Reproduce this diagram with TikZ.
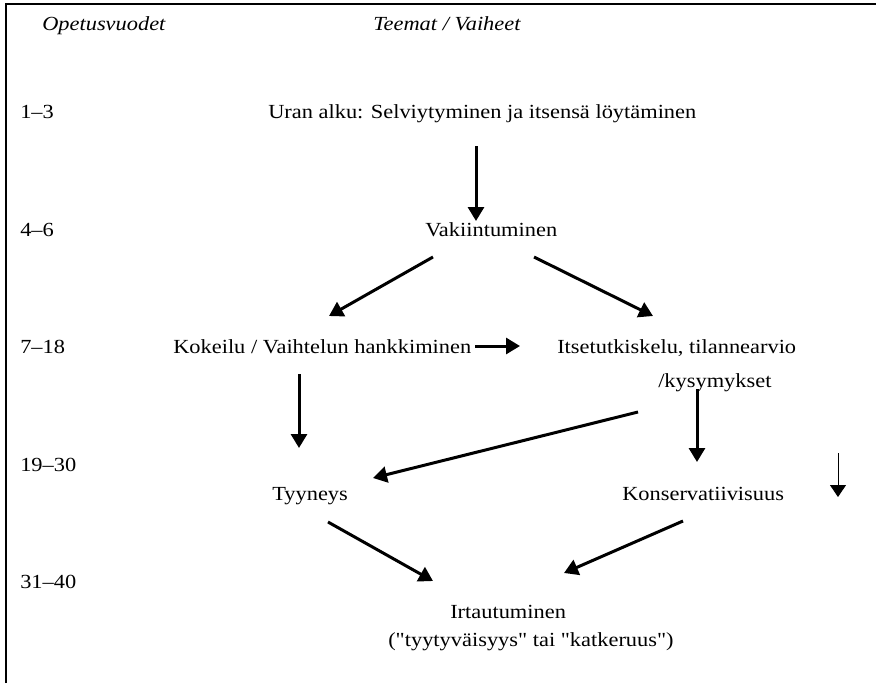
\documentclass[tikz,border=0pt]{standalone}
\usepackage{fontspec}
\setmainfont{Liberation Serif}[FakeStretch=1.12, Ligatures=TeXOff]
\usetikzlibrary{arrows.meta}
\tikzset{
  txt/.style={font=\fontsize{15}{20}\selectfont, inner sep=0pt, anchor=base west},
  hdr/.style={txt, font=\fontsize{15}{20}\selectfont\itshape},
  arr/.style={line width=2.25pt, -{Triangle[length=10.5pt,width=12pt]}},
  thinarr/.style={line width=0.75pt, -{Triangle[length=9pt,width=12pt]}},
  frame/.style={line width=1.8pt}
}
\begin{document}
\begin{tikzpicture}[x=0.75pt,y=-0.75pt]
\useasboundingbox (0,0) rectangle (876,683);
% frame (top and left)
\coordinate (fl) at (6,683);
\coordinate (fc) at (6,4);
\coordinate (fr) at (876,4);
\draw[frame] (fl) -- (fc) -- (fr);
% headers
\node[hdr] (h1) at (42,30) {Opetusvuodet};
\node[hdr] (h2) at (373,30) {Teemat / Vaiheet};
% years
\node[txt] (y1) at (20,118) {1–3};
\node[txt] (y2) at (20,236) {4–6};
\node[txt] (y3) at (20,353) {7–18};
\node[txt] (y4) at (20,471) {19–30};
\node[txt] (y5) at (20,588) {31–40};
% stages
\node[txt] (uran) at (268,118) {Uran alku: Selviytyminen ja itsensä löytäminen};
\node[txt] (vak) at (425,236) {Vakiintuminen};
\node[txt] (kok) at (173,353) {Kokeilu / Vaihtelun hankkiminen};
\node[txt] (itse) at (557,353) {Itsetutkiskelu, tilannearvio};
\node[txt] (kys) at (658,387) {/kysymykset};
\node[txt] (tyy) at (272,500) {Tyyneys};
\node[txt] (kons) at (622,500) {Konservatiivisuus};
\node[txt] (irt) at (450,618) {Irtautuminen};
\node[txt] (irt2) at (388,646) {("tyytyväisyys" tai "katkeruus")};
% arrow end points
\coordinate (a1s) at (476,146); \coordinate (a1e) at (476,221);
\coordinate (a2s) at (433,257); \coordinate (a2e) at (329,316);
\coordinate (a3s) at (534,257); \coordinate (a3e) at (653,316);
\coordinate (a4s) at (475,346); \coordinate (a4e) at (520,346);
\coordinate (a5s) at (299,374); \coordinate (a5e) at (299,448);
\coordinate (a6s) at (638,412); \coordinate (a6e) at (373,478);
\coordinate (a7s) at (697,389); \coordinate (a7e) at (697,462);
\coordinate (a8s) at (838,453); \coordinate (a8e) at (838,497);
\coordinate (a9s) at (328,522); \coordinate (a9e) at (433,581);
\coordinate (a10s) at (683,521); \coordinate (a10e) at (564,573);
% arrows
\draw[arr] (a1s) -- (a1e);
\draw[arr] (a2s) -- (a2e);
\draw[arr] (a3s) -- (a3e);
\draw[arr] (a4s) -- (a4e);
\draw[arr] (a5s) -- (a5e);
\draw[arr] (a6s) -- (a6e);
\draw[arr] (a7s) -- (a7e);
\draw[thinarr] (a8s) -- (a8e);
\draw[arr] (a9s) -- (a9e);
\draw[arr] (a10s) -- (a10e);
\end{tikzpicture}
\end{document}
